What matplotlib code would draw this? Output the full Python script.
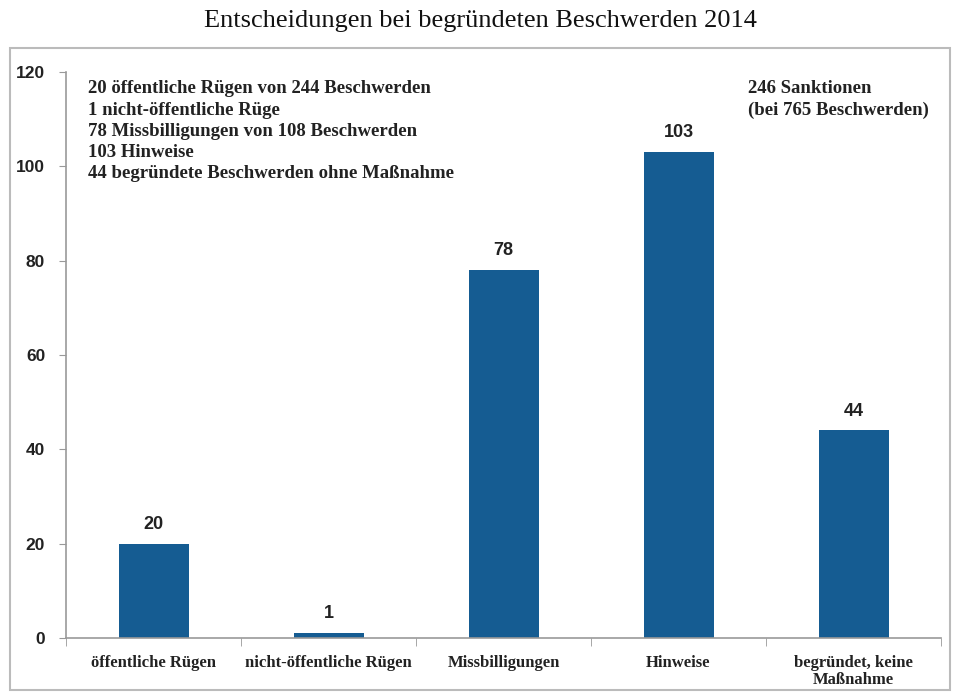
import matplotlib.pyplot as plt
from matplotlib.patches import Rectangle

categories = ['öffentliche Rügen', 'nicht-öffentliche Rügen', 'Missbilligungen',
              'Hinweise', 'begründet, keine\nMaßnahme']
values = [20, 1, 78, 103, 44]
y_ticks = [0, 20, 40, 60, 80, 100, 120]

notes_left = ['20 öffentliche Rügen von 244 Beschwerden',
              '1 nicht-öffentliche Rüge',
              '78 Missbilligungen von 108 Beschwerden',
              '103 Hinweise',
              '44 begründete Beschwerden ohne Maßnahme']
notes_right = ['246 Sanktionen', '(bei 765 Beschwerden)']

serif = ['Liberation Serif', 'DejaVu Serif']
sans = ['Liberation Sans', 'DejaVu Sans']
plt.rcParams['font.family'] = serif

W, H = 956, 697
fig = plt.figure(figsize=(W / 100, H / 100), dpi=100)
ax = fig.add_axes([66 / W, 1 - 638 / H, (941 - 66) / W, (638 - 72) / H])

bar_color = '#155c92'
x = list(range(len(categories)))
ax.bar(x, values, width=0.4, color=bar_color)
for xi, v in zip(x, values):
    ax.text(xi, v + 2.3, str(v), ha='center', va='bottom', fontsize=13,
            family=sans, weight='bold', color='#222222')

ax.set_xlim(-0.5, len(categories) - 0.5)
ax.set_ylim(0, 120)
ax.set_yticks(y_ticks)
ax.set_yticklabels([str(t) for t in y_ticks], fontsize=12.5, family=sans,
                   weight='bold', color='#222222')
ax.set_xticks(x)
ax.set_xticklabels(categories, fontsize=12, weight='bold', color='#222222',
                   linespacing=1.1)
ax.tick_params(axis='x', length=0, pad=12)
ax.tick_params(axis='y', length=5, color='#999999', pad=10)
# category boundary ticks on the x axis
ax.set_xticks([i - 0.5 for i in range(len(categories) + 1)], minor=True)
ax.tick_params(axis='x', which='minor', length=6, color='#999999', direction='out')

for s in ['top', 'right']:
    ax.spines[s].set_visible(False)
for s in ['left', 'bottom']:
    ax.spines[s].set_color('#999999')
    ax.spines[s].set_linewidth(1.2)

ax.text(0.025, 0.985, '\n'.join(notes_left), transform=ax.transAxes,
        ha='left', va='top', fontsize=13.5, weight='bold', color='#222222',
        linespacing=1.32)
ax.text(0.78, 0.985, '\n'.join(notes_right), transform=ax.transAxes,
        ha='left', va='top', fontsize=13.5, weight='bold', color='#222222',
        linespacing=1.32)

fig.text(480 / W, 1 - 21 / H, 'Entscheidungen bei begründeten Beschwerden 2014',
         ha='center', va='center', fontsize=19, color='#111111')

fig.patches.append(Rectangle((10 / W, 1 - 690 / H), 940 / W, 642 / H,
                             transform=fig.transFigure, fill=False,
                             edgecolor='#bbbbbb', linewidth=1.5))

fig.savefig('out.png', dpi=100)
